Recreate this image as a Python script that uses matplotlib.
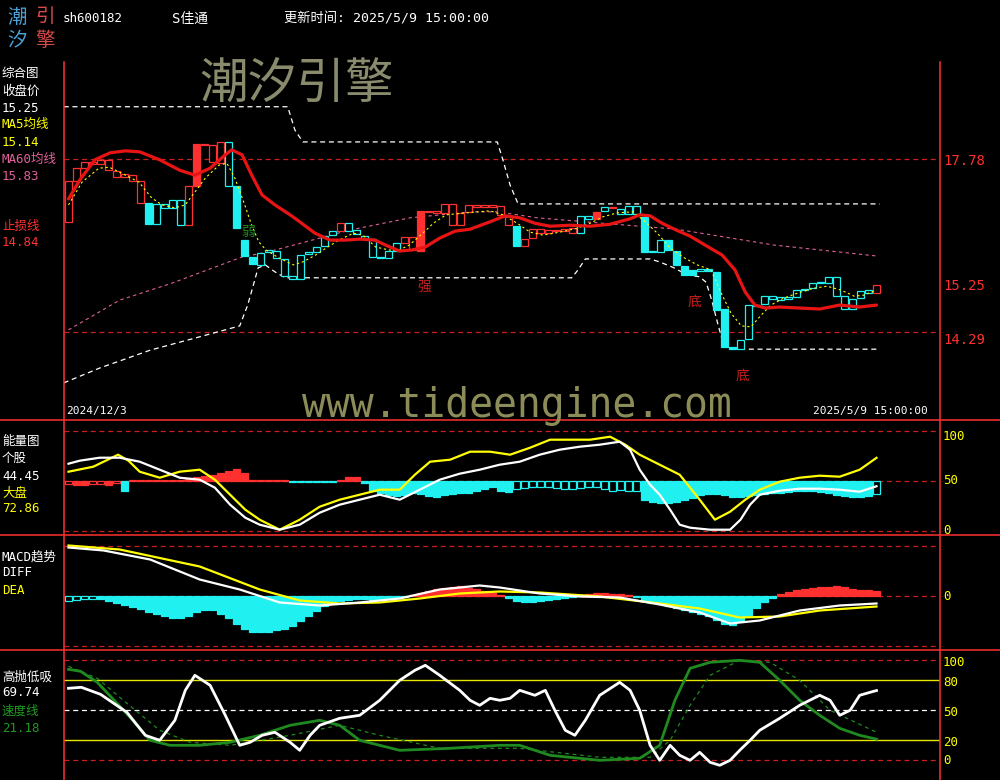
import numpy as np
import matplotlib.pyplot as plt
from matplotlib.patches import Rectangle

plt.rcParams['font.family'] = ['DejaVu Sans Mono', 'Noto Sans CJK SC']

# ---------------- data ----------------
# daily boxes, 2024/12/3 .. 2025/5/9
opens = [16.52, 17.34, 17.60, 17.68, 17.68, 17.56, 17.42, 17.42, 17.34, 16.90,
         16.90, 16.47, 16.80, 16.80, 16.45, 16.45, 18.09, 18.07, 17.72, 17.70,
         17.24, 17.24, 16.15, 15.81, 15.65, 15.91, 15.79, 15.43, 15.37, 15.37,
         15.87, 15.91, 16.03, 16.25, 16.33, 16.33, 16.27, 16.17, 15.81, 15.79,
         15.79, 15.93, 16.09, 15.95, 16.74, 16.72, 16.70, 16.70, 16.45, 16.45,
         16.72, 16.82, 16.82, 16.82, 16.66, 16.45, 16.43, 16.03, 16.19, 16.29,
         16.29, 16.33, 16.33, 16.29, 16.29, 16.58, 16.72, 16.74, 16.80, 16.68,
         16.68, 16.68, 16.62, 15.91, 15.91, 16.15, 15.93, 15.63, 15.55, 15.53,
         15.57, 15.51, 14.76, 13.99, 13.95, 14.16, 14.82, 14.86, 14.96, 14.94,
         14.96, 15.00, 15.14, 15.18, 15.28, 15.28, 15.02, 14.76, 14.76, 14.98,
         15.08, 15.08]
closes = [17.34, 17.60, 17.72, 17.72, 17.77, 17.77, 17.54, 17.48, 17.46, 17.34,
          16.47, 16.88, 16.88, 16.96, 16.96, 17.24, 17.24, 18.09, 18.07, 18.13,
          18.13, 16.39, 15.83, 15.67, 15.89, 15.95, 15.93, 15.77, 15.43, 15.85,
          15.91, 16.01, 16.23, 16.33, 16.49, 16.49, 16.35, 16.23, 16.17, 15.81,
          15.93, 16.09, 16.21, 16.21, 15.93, 16.74, 16.74, 16.88, 16.88, 16.70,
          16.86, 16.86, 16.86, 16.86, 16.84, 16.64, 16.03, 16.17, 16.37, 16.37,
          16.35, 16.35, 16.37, 16.39, 16.64, 16.64, 16.58, 16.82, 16.82, 16.78,
          16.84, 16.84, 15.91, 15.93, 16.15, 15.95, 15.65, 15.45, 15.45, 15.57,
          15.53, 14.74, 13.99, 13.95, 14.13, 14.84, 14.84, 15.02, 15.02, 15.00,
          15.00, 15.14, 15.16, 15.28, 15.30, 15.41, 15.41, 15.02, 14.96, 15.12,
          15.14, 15.25]
# r = strong (red), c = weak (cyan)
box_color = 'rrrrrrrrrr' + 'ccccc' + 'rrrrr' + 'cccccccccccccc' + 'r' + 'ccccccc' + \
            'rrrrrrrrrrrrrr' + 'c' + 'rrrrrrr' + 'cc' + 'r' + 'c' + 'r' + 'c' * 32 + 'r'

ma5_x = [0, 1.7, 3.8, 5.1, 6.4, 8.8, 10.4, 11.7, 13.3, 14.6, 15.8, 17.1, 18.8, 19.8, 20.8,
         21.9, 22.9, 23.8, 24.7, 26.3, 28.1, 29.3, 30.9, 32.2, 33.8, 35.6, 36.8, 38.4, 40.1,
         41.3, 42.6, 44.3, 45.6, 47.2, 49.7, 52.7, 54.3, 56.1, 57.7, 59.3, 61.4, 63.6, 65.2,
         66.8, 68.6, 70.6, 72.3, 73.6, 75.2, 77.0, 78.6, 80.3, 81.6, 82.8, 84.1, 85.3, 86.6,
         87.8, 89.4, 91.1, 93.2, 94.8, 96.6, 98.2, 99.4, 101]
ma5_v = [16.86, 17.32, 17.60, 17.62, 17.52, 17.32, 17.00, 16.86, 16.80, 16.86, 17.12, 17.40,
         17.66, 17.70, 17.40, 16.92, 16.45, 16.11, 15.95, 15.79, 15.65, 15.71, 15.85, 15.99,
         16.15, 16.29, 16.25, 16.01, 15.95, 15.95, 16.05, 16.29, 16.49, 16.66, 16.70, 16.74,
         16.66, 16.49, 16.31, 16.25, 16.31, 16.39, 16.49, 16.62, 16.70, 16.72, 16.49, 16.29,
         15.99, 15.79, 15.65, 15.55, 15.08, 14.68, 14.42, 14.40, 14.64, 14.84, 14.98, 15.08,
         15.18, 15.22, 15.14, 15.02, 15.04, 15.14]

ma60_x = [0, 6.4, 12.9, 21.7, 24.9, 35.1, 42.7, 50.4, 53.6, 58.6, 66.8, 76.0, 88.2, 101]
ma60_v = [14.34, 14.94, 15.28, 15.81, 15.91, 16.35, 16.60, 16.72, 16.72, 16.60, 16.49,
          16.37, 16.05, 15.83]

stop_x = [0, 1.4, 3.3, 5.2, 7.1, 8.9, 11.4, 13.9, 15.8, 17.7, 19.6, 20.4, 21.7, 22.9, 24.2,
          25.8, 27.7, 28.9, 30.8, 32.7, 34.6, 36.4, 38.3, 39.9, 41.4, 42.9, 44.6, 46.4, 48.3,
          50.2, 52.7, 54.6, 56.4, 58.3, 60.2, 62.7, 65.2, 67.7, 70.2, 71.4, 72.7, 74.2, 76.0,
          77.7, 80.2, 81.7, 83.3, 84.6, 85.8, 87.1, 88.9, 91.4, 93.9, 96.4, 98.9, 101]
stop_v = [16.98, 17.36, 17.77, 17.91, 17.95, 17.93, 17.77, 17.56, 17.46, 17.60, 17.87, 17.97,
          17.87, 17.46, 17.06, 16.86, 16.66, 16.52, 16.29, 16.15, 16.15, 16.17, 16.15, 16.03,
          15.93, 15.95, 16.01, 16.19, 16.33, 16.37, 16.52, 16.64, 16.60, 16.49, 16.43, 16.45,
          16.43, 16.47, 16.58, 16.66, 16.64, 16.49, 16.35, 16.23, 15.99, 15.85, 15.55, 15.10,
          14.84, 14.78, 14.80, 14.78, 14.76, 14.84, 14.80, 14.84]

upper_x = [-0.6, 27.4, 28.3, 29.3, 53.6, 54.3, 55.2, 56.2, 101.4]
upper_v = [18.84, 18.84, 18.37, 18.13, 18.13, 17.77, 17.26, 16.88, 16.88]
lower_x = [-0.6, 3.9, 10.2, 16.4, 21.4, 22.4, 23.1, 23.7, 24.6, 25.8, 27.1, 62.9, 63.7, 64.6,
           72.7, 73.9, 75.7, 77.3, 78.9, 79.7, 80.4, 81.2, 81.9, 83.3, 101.4]
lower_v = [13.27, 13.57, 13.93, 14.20, 14.42, 14.84, 15.24, 15.59, 15.65, 15.51, 15.39, 15.39,
           15.55, 15.77, 15.77, 15.71, 15.59, 15.45, 15.41, 15.30, 14.94, 14.44, 14.03, 13.95,
           13.95]
price_marks = [17.78, 14.29]

# energy panel (bars hang from the 50 line; upper case = filled, lower case = hollow)
en_bar = [47, 46, 46, 47, 47, 46, 48, 40, 49.5, 49.5, 49.5, 49.5, 49.5, 49.5, 49.5, 53, 54,
          55, 56, 58, 60, 62, 58, 51, 51, 51, 51, 51, 49, 49, 49, 49, 49, 49, 51, 54, 54, 48,
          40, 38, 36, 35, 36, 38, 37, 35, 34, 36, 37, 38, 38, 40, 42, 44, 40, 39, 42, 43, 44,
          44, 44, 43, 42, 42, 43, 44, 44, 42, 40, 41, 40, 40, 31, 29, 28, 28, 29, 31, 33, 36,
          37, 37, 36, 34, 34, 35, 36, 37, 38, 38, 39, 40, 40, 40, 39, 38, 36, 35, 34, 34, 35,
          37]
en_style = 'rRRrrRr' + 'C' + 'rrrrrrr' + 'RRRRRRRR' + 'rrrrr' + 'cccccc' + 'RRR' + \
           'C' * 19 + 'c' * 16 + 'C' * 29 + 'c'
en_stock_x = [0, 1.4, 3.9, 6.4, 8.9, 11.4, 13.9, 16.4, 18.3, 20.2, 22.1, 23.9, 26.4, 28.9,
              31.4, 33.9, 36.4, 38.9, 41.4, 43.9, 46.4, 48.9, 51.4, 53.9, 56.4, 58.9, 61.4,
              63.9, 66.4, 68.9, 70.2, 71.4, 72.7, 73.9, 75.2, 76.4, 77.7, 80.2, 82.7, 84.0,
              85.2, 86.4, 88.9, 91.4, 93.9, 96.4, 98.9, 101]
en_stock_v = [67, 70, 73, 73, 69, 61, 53, 51, 43, 26, 13, 6, 1, 6, 18, 26, 31, 36, 31, 41,
              51, 57, 61, 66, 69, 76, 81, 84, 86, 89, 81, 61, 46, 36, 21, 6, 3, 1, 1, 11, 26,
              36, 40, 42, 42, 41, 39, 44.45]
en_mkt_x = [0, 3.1, 6.2, 7.5, 8.9, 11.4, 13.9, 16.4, 18.3, 20.2, 22.1, 23.9, 26.4, 28.9,
            31.4, 33.9, 36.4, 38.9, 41.4, 43.3, 45.2, 47.7, 50.2, 52.7, 55.2, 57.7, 60.2,
            62.7, 65.2, 67.7, 69.6, 71.4, 73.9, 76.4, 78.9, 80.8, 82.7, 84.6, 86.4, 88.9,
            91.4, 93.9, 96.4, 98.9, 101]
en_mkt_v = [59, 64, 76, 70, 59, 53, 59, 61, 51, 36, 21, 11, 1, 11, 24, 31, 36, 41, 41, 56,
            69, 71, 79, 79, 76, 83, 91, 91, 91, 94, 86, 76, 66, 56, 31, 11, 19, 31, 41, 49,
            53, 55, 54, 61, 72.86]

# MACD panel
macd_bar = [-0.05, -0.04, -0.03, -0.03, -0.03, -0.05, -0.07, -0.09, -0.11, -0.13,
            -0.16, -0.18, -0.20, -0.22, -0.22, -0.20, -0.16, -0.14, -0.14, -0.18,
            -0.22, -0.28, -0.33, -0.36, -0.36, -0.36, -0.34, -0.33, -0.30, -0.25,
            -0.20, -0.15, -0.10, -0.07, -0.05, -0.04, -0.03, -0.03, -0.04, -0.04,
            -0.03, -0.02, -0.01, 0.01, 0.03, 0.05, 0.07, 0.08, 0.09, 0.10,
            0.08, 0.07, 0.05, 0.03, 0.01, -0.02, -0.05, -0.06, -0.06, -0.05,
            -0.04, -0.03, -0.02, -0.01, 0.01, 0.02, 0.03, 0.03, 0.02, 0.02,
            0.01, -0.01, -0.05, -0.07, -0.08, -0.10, -0.12, -0.14, -0.16, -0.18,
            -0.20, -0.24, -0.28, -0.29, -0.25, -0.20, -0.12, -0.06, -0.02, 0.02,
            0.04, 0.06, 0.07, 0.08, 0.09, 0.09, 0.10, 0.09, 0.07, 0.06, 0.06, 0.05]
macd_hollow = [0, 1, 2, 3]
diff_x = [0, 4.4, 10.2, 16.4, 21.4, 26.4, 31.4, 36.4, 41.4, 46.4, 51.4, 53.9, 58.9, 63.9,
          68.9, 73.9, 78.9, 82.7, 86.4, 91.4, 96.4, 101]
diff_v = [0.48, 0.45, 0.36, 0.16, 0.06, -0.07, -0.10, -0.07, -0.03, 0.06, 0.10, 0.08, 0.02,
          -0.01, -0.02, -0.09, -0.17, -0.28, -0.25, -0.15, -0.10, -0.08]
dea_x = [0, 6.4, 16.4, 23.9, 28.9, 33.9, 38.9, 43.9, 48.9, 53.9, 58.9, 66.4, 73.9, 78.9,
         83.9, 88.9, 93.9, 101]
dea_v = [0.50, 0.46, 0.29, 0.06, -0.05, -0.08, -0.07, -0.03, 0.02, 0.04, 0.03, -0.01, -0.08,
         -0.13, -0.22, -0.21, -0.15, -0.11]

# high-sell / low-buy panel
hl_x = [0, 1.6, 4.0, 7.3, 9.6, 11.4, 13.3, 14.6, 15.8, 17.7, 19.6, 21.4, 22.7, 24.2, 25.8,
        27.7, 28.9, 30.2, 31.4, 33.9, 36.4, 38.9, 41.4, 43.3, 44.6, 46.4, 48.9, 50.2, 51.4,
        52.7, 53.9, 55.2, 56.4, 58.3, 59.6, 60.8, 62.1, 63.3, 64.6, 66.4, 68.9, 70.2, 71.4,
        72.7, 73.9, 75.2, 76.4, 77.7, 78.9, 80.2, 81.4, 82.7, 83.9, 85.2, 86.4, 88.9, 91.4,
        93.9, 95.2, 96.4, 97.7, 98.9, 100.2, 101]
hl_v = [72, 73, 66, 48, 25, 20, 40, 70, 85, 75, 45, 15, 18, 25, 28, 18, 10, 25, 35, 42, 45,
        60, 80, 90, 95, 85, 70, 60, 55, 62, 60, 62, 70, 65, 70, 50, 30, 25, 40, 65, 78, 70,
        50, 15, 0, 15, 5, 0, 8, -2, -5, 0, 10, 20, 30, 42, 55, 65, 60, 45, 50, 65, 68, 69.74]
speed_x = [0, 1.5, 3.6, 7.7, 10.2, 12.7, 16.4, 20.2, 23.9, 27.7, 31.4, 33.9, 36.4, 41.4,
           47.7, 53.9, 56.4, 60.2, 66.4, 71.4, 73.9, 75.8, 77.7, 80.2, 83.9, 86.4, 88.9,
           91.4, 93.9, 96.4, 98.9, 101]
speed_v = [91, 89, 78, 43, 20, 15, 15, 18, 25, 35, 40, 35, 20, 10, 12, 15, 15, 5, 0, 2, 15,
           60, 92, 98, 100, 98, 80, 60, 45, 32, 25, 21.18]
speed2_x = [0, 3.6, 6.4, 11.4, 15.2, 20.2, 27.7, 33.9, 38.9, 46.4, 56.4, 66.4, 72.7, 75.2,
            77.7, 80.2, 83.9, 87.7, 91.4, 95.2, 101]
speed2_v = [94, 82, 63, 30, 18, 15, 25, 35, 25, 12, 12, 3, 3, 20, 55, 85, 100, 98, 80, 50, 28]

# ---------------- figure ----------------
W, H = 1000, 780
fig = plt.figure(figsize=(W / 100, H / 100), dpi=100, facecolor='black')

RED = '#ff3030'
CYAN = '#20f0f0'
DRED = '#c81e1e'
YEL = '#ffff00'
XL = (-0.5625, 108.9375)


def panel(y_top, y_bot, ylim):
    ax = fig.add_axes([64 / W, 1 - y_bot / H, 876 / W, (y_bot - y_top) / H])
    ax.set_facecolor('black')
    ax.set_xlim(*XL)
    ax.set_ylim(*ylim)
    ax.axis('off')
    return ax


def hdash(ax, v, color, dashes=(4, 3)):
    ax.axhline(v, color=color, lw=0.9, dashes=dashes)


def box(ax, i, lo, hi, col, filled, min_h):
    ax.add_patch(Rectangle((i - 0.4, lo), 0.8, max(hi - lo, min_h),
                           facecolor=col if filled else 'black', edgecolor=col, lw=0.9,
                           zorder=3))


# --- main price panel
ax1 = panel(62, 420, (12.522, 19.742))
for v in price_marks:
    hdash(ax1, v, DRED)
ax1.plot(upper_x, upper_v, color='white', lw=0.9, dashes=(4, 3))
ax1.plot(lower_x, lower_v, color='white', lw=0.9, dashes=(4, 3))
ax1.plot(ma60_x, ma60_v, color='#e0609a', lw=0.8, dashes=(3, 3))
for i, (o, c) in enumerate(zip(opens, closes)):
    col = RED if box_color[i] == 'r' else CYAN
    box(ax1, i, min(o, c), max(o, c), col, c < o, 0.02)
ax1.plot(ma5_x, ma5_v, color=YEL, lw=0.8, dashes=(2, 2.5), zorder=4)
ax1.plot(stop_x, stop_v, color='#e81414', lw=2.3, zorder=5, solid_capstyle='round')

# --- energy panel
ax2 = panel(420, 535, (-4.3, 110.7))
for v in (100, 50, 0):
    hdash(ax2, v, DRED)
for i, v in enumerate(en_bar):
    st = en_style[i]
    col = RED if st in 'rR' else CYAN
    box(ax2, i, min(v, 50), max(v, 50), col, st.isupper(), 0.8)
ax2.plot(en_mkt_x, en_mkt_v, color=YEL, lw=1.6, zorder=4)
ax2.plot(en_stock_x, en_stock_v, color='white', lw=1.6, zorder=5)

# --- MACD panel
ax3 = panel(535, 650, (-0.545, 0.605))
for v in (0.5, 0, -0.5):
    hdash(ax3, v, DRED)
for i, v in enumerate(macd_bar):
    col = RED if v >= 0 else CYAN
    box(ax3, i, min(v, 0), max(v, 0), col, i not in macd_hollow, 0.008)
ax3.plot(dea_x, dea_v, color=YEL, lw=1.6, zorder=4)
ax3.plot(diff_x, diff_v, color='white', lw=1.6, zorder=5)

# --- high / low panel
ax4 = panel(650, 780, (-19.7, 110.3))
hdash(ax4, 100, DRED)
hdash(ax4, 0, DRED)
hdash(ax4, 50, 'white')
ax4.axhline(80, color='#e6e600', lw=1)
ax4.axhline(20, color='#e6e600', lw=1)
ax4.plot(speed2_x, speed2_v, color='#1f8a1f', lw=0.9, dashes=(3, 3), zorder=3)
ax4.plot(speed_x, speed_v, color='#1f8a1f', lw=2.0, zorder=4)
ax4.plot(hl_x, hl_v, color='white', lw=2.0, zorder=5)

# --- overlay in pixel coordinates: frame and texts
ov = fig.add_axes([0, 0, 1, 1])
ov.set_xlim(0, W)
ov.set_ylim(H, 0)
ov.axis('off')
ov.patch.set_visible(False)
ov.plot([64, 64], [62, H], color=RED, lw=1.1)
ov.plot([940, 940], [62, H], color=RED, lw=1.1)
for y in (420, 535, 650):
    ov.plot([0, W], [y, y], color=RED, lw=1.1)


def t(x, y, s, color='white', size=9, **kw):
    ov.text(x, y, s, color=color, fontsize=size, va='center', **kw)


# header
t(7, 17, '潮', '#4aa3d8', 14)
t(35, 17, '引', '#d84a4a', 14)
t(7, 40, '汐', '#4aa3d8', 14)
t(35, 40, '擎', '#d84a4a', 14)
t(63, 19, 'sh600182', size=9)
t(172, 19, 'S佳通', size=10)
t(284, 19, '更新时间: 2025/5/9 15:00:00', size=9.5)

# watermarks
t(297, 85, '潮汐引擎', '#8a8a6c', 35, ha='center')
t(517, 406, 'www.tideengine.com', '#8c8c58', 28.6, ha='center')

# left labels
t(2, 73, '综合图')
t(2, 91, '收盘价')
t(2, 108, '15.25')
t(2, 124, 'MA5均线', YEL)
t(2, 142, '15.14', YEL)
t(2, 159, 'MA60均线', '#e0609a')
t(2, 176, '15.83', '#e0609a')
t(2, 226, '止损线', RED)
t(2, 243, '14.84', RED)
t(2, 441, '能量图')
t(2, 458, '个股')
t(2, 476, '44.45')
t(2, 493, '大盘', YEL)
t(2, 509, '72.86', YEL)
t(2, 557, 'MACD趋势')
t(2, 573, 'DIFF')
t(2, 591, 'DEA', YEL)
t(2, 677, '高抛低吸')
t(2, 693, '69.74')
t(2, 711, '速度线', '#1f9a1f')
t(2, 728, '21.18', '#1f9a1f')

# right axis labels
t(943, 161, '17.78', RED, 10)
t(943, 286, '15.25', RED, 10)
t(943, 340, '14.29', RED, 10)
for y, s in ((436, '100'), (481, '50'), (531, '0'), (596, '0'),
             (662, '100'), (683, '80'), (712, '50'), (742, '20'), (761, '0')):
    t(943, y, s, YEL, 9)

# date stamps and signals
t(66, 411, '2024/12/3', size=8)
t(928, 411, '2025/5/9 15:00:00', size=8, ha='right')
t(248, 232, '弱', '#1f8a1f', 10, ha='center')
t(424, 287, '强', DRED, 10, ha='center')
t(694, 302, '底', DRED, 10, ha='center')
t(742, 376, '底', DRED, 10, ha='center')

fig.savefig('out.png', dpi=100, facecolor='black')
